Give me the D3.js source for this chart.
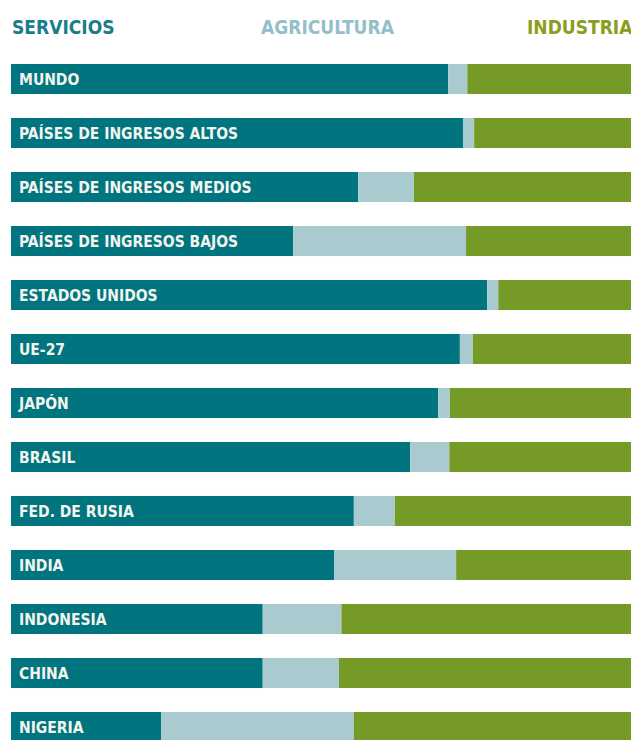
<!DOCTYPE html>
<html>
<head>
<meta charset="utf-8">
<script src="https://cdn.jsdelivr.net/npm/d3@7"></script>
<style>
  body { margin: 0; background: #fff; }
  svg text { font-family: "Liberation Sans Narrow", "DejaVu Sans Condensed", "Roboto", sans-serif; font-weight: bold; }
</style>
</head>
<body>
<div id="chart"></div>
<script>
// share of GDP (%)
var regions = ["MUNDO", "PAÍSES DE INGRESOS ALTOS", "PAÍSES DE INGRESOS MEDIOS", "PAÍSES DE INGRESOS BAJOS",
  "ESTADOS UNIDOS", "UE-27", "JAPÓN", "BRASIL", "FED. DE RUSIA", "INDIA", "INDONESIA", "CHINA", "NIGERIA"];
var servicios   = [70.5, 72.9, 56.0, 45.5, 76.8, 72.4, 68.9, 64.4, 55.3, 52.1, 40.6, 40.6, 24.2];
var agricultura = [ 3.1,  1.8,  9.0, 27.9,  1.8,  2.1,  1.9,  6.3,  6.6, 19.7, 12.7, 12.3, 31.1];
var industria   = [26.4, 25.3, 35.0, 26.6, 21.4, 25.5, 29.2, 29.3, 38.1, 28.2, 46.7, 47.1, 44.7];
var sectors = ["SERVICIOS", "AGRICULTURA", "INDUSTRIA"];

var W = 631, H = 740;
var colors = {SERVICIOS: "#00757f", AGRICULTURA: "#a9cbd0", INDUSTRIA: "#769a26"};
var legendColors = {SERVICIOS: "#1a7d89", AGRICULTURA: "#93bfca", INDUSTRIA: "#8a9d1c"};

var svg = d3.select('#chart').append('svg')
    .attr('width', W).attr('height', H);

var x = d3.scaleLinear().domain([0, 100]).range([11, 631]);
// 13 rows, 54px apart, 30px tall
var y = d3.scaleBand().domain(regions).range([64, 742]).paddingInner(0.444).paddingOuter(0);

var rows = regions.map(function(r, i){
    return {region: r, SERVICIOS: servicios[i], AGRICULTURA: agricultura[i], INDUSTRIA: industria[i]};
});
var series = d3.stack().keys(sectors)(rows);

// legend
var legendX = {SERVICIOS: 12, AGRICULTURA: 261, INDUSTRIA: 527};
svg.selectAll('.legend').data(sectors).enter()
    .append('text')
    .attr('class', 'legend')
    .attr('x', function(d){ return legendX[d]; })
    .attr('y', 34)
    .attr('font-size', 19)
    .attr('fill', function(d){ return legendColors[d]; })
    .text(function(d){ return d; });

svg.selectAll('g.series').data(series).enter()
    .append('g').attr('class', 'series')
    .attr('fill', function(d){ return colors[d.key]; })
  .selectAll('rect').data(function(d){ return d; }).enter()
    .append('rect')
    .attr('x', function(d){ return x(d[0]); })
    .attr('width', function(d){ return x(d[1]) - x(d[0]); })
    .attr('y', function(d){ return y(d.data.region); })
    .attr('height', y.bandwidth());

// labels inside bars
svg.selectAll('.lbl').data(regions).enter()
    .append('text')
    .attr('class', 'lbl')
    .attr('x', 19)
    .attr('y', function(d){ return y(d) + y.bandwidth()/2 + 6; })
    .attr('font-size', 15.5)
    .attr('fill', '#f4f4ee')
    .text(function(d){ return d; });
</script>
</body>
</html>
